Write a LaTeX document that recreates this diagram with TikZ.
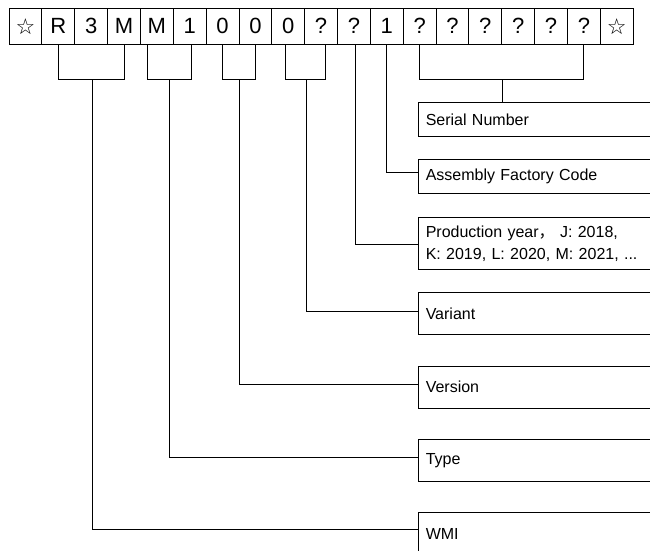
\documentclass[tikz,border=0pt]{standalone}
\usepackage{fontspec}
\setmainfont{Liberation Sans}
\newfontfamily\symfont{DejaVu Sans}
\newfontfamily\cjkfont{Noto Sans CJK SC}
\newcommand\wstar{{\symfont ☆}}
\begin{document}
\begin{tikzpicture}[x=1pt,y=-1pt,
  cell/.style={draw, line width=0.9pt, minimum width=32.85pt, minimum height=35.5pt, inner sep=0pt, font=\fontsize{22}{26}\selectfont},
  lbox/.style={draw, line width=0.9pt, anchor=north west, inner xsep=7pt, inner ysep=2pt, align=left, text width=240pt, font=\fontsize{16}{22}\selectfont},
  conn/.style={line width=0.9pt}]
\useasboundingbox (0,0) rectangle (650,551);
\clip (0,0) rectangle (650,551);
% code cells
\foreach \t [count=\i] in {\wstar,R,3,M,M,1,0,0,0,?,?,1,?,?,?,?,?,?,\wstar}
  \node[cell] (c\i) at ({9+32.85*(\i-0.5)},26.25) {\t};
% description boxes
\node[lbox, minimum height=33.7pt] (serial)  at (418.3,102.3) {Serial Number};
\node[lbox, minimum height=34pt]   (asm)     at (418.3,159.3) {Assembly Factory Code};
\node[lbox, minimum height=52.3pt] (prod)    at (418.3,216.7) {Production year{\cjkfont ，} J: 2018,\\K: 2019, L: 2020, M: 2021, ...};
\node[lbox, minimum height=41.7pt] (variant) at (418.3,292.3) {Variant};
\node[lbox, minimum height=42pt]   (version) at (418.3,365.7) {Version};
\node[lbox, minimum height=41.7pt] (type)    at (418.3,439.3) {Type};
\node[lbox, minimum height=42pt]   (wmi)     at (418.3,512.3) {WMI};
% junction points of brackets
\coordinate (jWMI) at (92.3,79);
\coordinate (jType) at (169.3,79);
\coordinate (jVer) at (239.5,79);
\coordinate (jVar) at (306.7,79);
\coordinate (jSer) at (502,79);
% brackets
\draw[conn] (c2.south) -- ++(0,35) -| (c4.south);
\draw[conn] ([xshift=-9pt]c5.south) -- ++(0,35) -| ([xshift=2pt]c6.south);
\draw[conn] (c7.south) -- ++(0,35) -| (c8.south);
\draw[conn] ([xshift=-3pt]c9.south) -- ++(0,35) -| ([xshift=4.4pt]c10.south);
\draw[conn] (c13.south) -- ++(0,35) -| (c18.south);
% connectors
\draw[conn] (jSer) -- (jSer |- serial.north);
\draw[conn] (c12.south) |- ([yshift=4pt]asm.west);
\draw[conn] ([xshift=1.5pt]c11.south) |- ([yshift=-1.2pt]prod.west);
\draw[conn] (jVar) |- ([yshift=2.3pt]variant.west);
\draw[conn] (jVer) |- ([yshift=2.7pt]version.west);
\draw[conn] (jType) |- ([yshift=2.7pt]type.west);
\draw[conn] (jWMI) |- ([yshift=4pt]wmi.west);
\end{tikzpicture}
\end{document}
